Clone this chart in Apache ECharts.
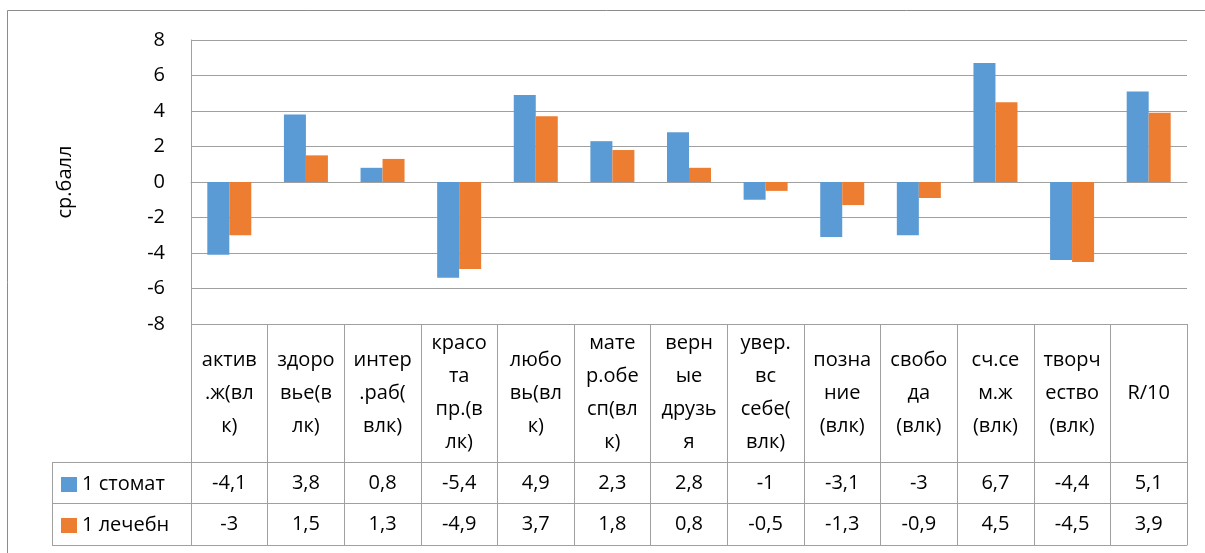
<!DOCTYPE html>
<html>
<head>
<meta charset="utf-8">
<script src="https://cdn.jsdelivr.net/npm/echarts@6/dist/echarts.min.js"></script>
<style>
	html, body { margin: 0; padding: 0; background: #fff; }
	#chart { width: 1205px; height: 553px; }
</style>
</head>
<body>
<div id="chart"></div>
<script>
var categories = ['актив\n.ж(вл\nк)', 'здоро\nвье(в\nлк)', 'интер\n.раб(\nвлк)', 'красо\nта\nпр.(в\nлк)',
	'любо\nвь(вл\nк)', 'мате\nр.обе\nсп(вл\nк)', 'верн\nые\nдрузь\nя', 'увер.\nвс\nсебе(\nвлк)',
	'позна\nние\n(влк)', 'свобо\nда\n(влк)', 'сч.се\nм.ж\n(влк)', 'творч\nество\n(влк)', 'R/10'];
var seriesNames = ['1 стомат', '1 лечебн'];
var stomat = [-4.1, 3.8, 0.8, -5.4, 4.9, 2.3, 2.8, -1, -3.1, -3, 6.7, -4.4, 5.1];
var lechebn = [-3, 1.5, 1.3, -4.9, 3.7, 1.8, 0.8, -0.5, -1.3, -0.9, 4.5, -4.5, 3.9];

var font = '"Open Sans", "Noto Sans", sans-serif';
var fs = 20;
var lineColor = '#a0a0a0';

function fmt(v) {
	return String(v).replace('.', ',');
}

var chart = echarts.init(document.getElementById('chart'));
var option = {
	animation: false,
	textStyle: { fontFamily: font },
	grid: {
		left: 191,
		right: 18,
		top: 40,
		bottom: 229
	},
	legend: {
		orient: 'vertical',
		left: 56,
		top: 469,
		itemWidth: 16,
		itemHeight: 15,
		itemGap: 20,
		icon: 'rect',
		textStyle: { fontSize: fs, color: '#000', lineHeight: 21, fontFamily: font },
		data: seriesNames
	},
	xAxis: [{
		type: 'category',
		data: categories,
		axisLine: { lineStyle: { color: lineColor } },
		axisTick: { show: false },
		axisLabel: {
			interval: 0,
			margin: 69,
			verticalAlign: 'middle',
			fontSize: fs,
			lineHeight: 33,
			color: '#000'
		}
	}, {
		type: 'category',
		data: categories,
		position: 'bottom',
		offset: 138,
		axisLine: { lineStyle: { color: lineColor } },
		axisTick: { show: false },
		axisLabel: {
			interval: 0,
			margin: 21,
			verticalAlign: 'middle',
			fontSize: fs,
			color: '#000',
			formatter: function(v, i) { return fmt(stomat[i]); }
		}
	}, {
		type: 'category',
		data: categories,
		position: 'bottom',
		offset: 179,
		axisLine: { lineStyle: { color: lineColor } },
		axisTick: { show: false },
		axisLabel: {
			interval: 0,
			margin: 21,
			verticalAlign: 'middle',
			fontSize: fs,
			color: '#000',
			formatter: function(v, i) { return fmt(lechebn[i]); }
		}
	}, {
		// bottom edge of the table; its inward ticks make the cell borders
		type: 'category',
		data: categories,
		position: 'bottom',
		offset: 221,
		axisLine: { lineStyle: { color: lineColor } },
		axisTick: { show: true, inside: true, length: 221, lineStyle: { color: lineColor } },
		axisLabel: { show: false }
	}],
	yAxis: {
		type: 'value',
		min: -8,
		max: 8,
		interval: 2,
		name: 'ср.балл',
		nameLocation: 'middle',
		nameGap: 116,
		nameTextStyle: { fontSize: fs, color: '#000', fontFamily: font },
		axisLine: { show: true, lineStyle: { color: lineColor } },
		axisTick: { show: false },
		axisLabel: { fontSize: fs, color: '#000', margin: 26 },
		splitLine: { lineStyle: { color: lineColor } }
	},
	series: [{
		name: seriesNames[0],
		type: 'bar',
		data: stomat,
		barWidth: 22,
		barGap: '0%',
		itemStyle: { color: '#5b9bd5' }
	}, {
		name: seriesNames[1],
		type: 'bar',
		data: lechebn,
		barWidth: 22,
		barGap: '0%',
		itemStyle: { color: '#ed7d31' }
	}],
	graphic: [
		// outer chart frame
		{ type: 'rect', silent: true, shape: { x: 7.5, y: 10.5, width: 1300, height: 600 },
			style: { fill: null, stroke: '#8c8c8c', lineWidth: 1 } },
		// legend column of the data table
		{ type: 'line', silent: true, shape: { x1: 52.5, y1: 462, x2: 52.5, y2: 545 }, style: { stroke: lineColor } },
		{ type: 'line', silent: true, shape: { x1: 52, y1: 462.5, x2: 191, y2: 462.5 }, style: { stroke: lineColor } },
		{ type: 'line', silent: true, shape: { x1: 52, y1: 503.5, x2: 191, y2: 503.5 }, style: { stroke: lineColor } },
		{ type: 'line', silent: true, shape: { x1: 52, y1: 545.5, x2: 191, y2: 545.5 }, style: { stroke: lineColor } }
	]
};
chart.setOption(option);
</script>
</body>
</html>
